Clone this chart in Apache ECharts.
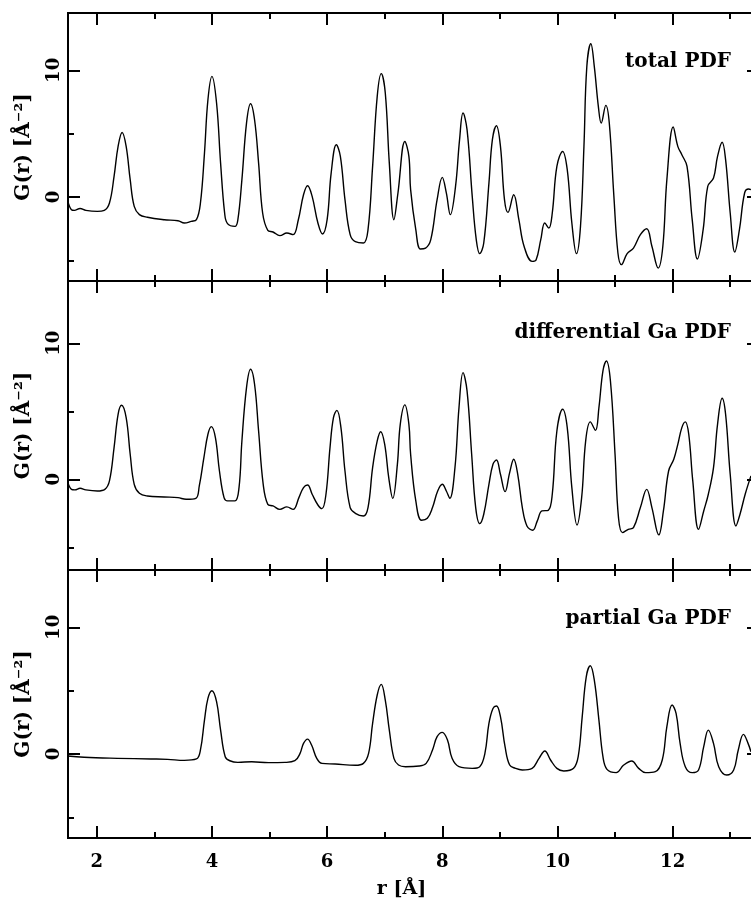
<!DOCTYPE html>
<html>
<head>
<meta charset="utf-8">
<script src="https://cdn.jsdelivr.net/npm/echarts@6/dist/echarts.min.js"></script>
<style>
html,body{margin:0;padding:0;background:#fff;overflow:hidden;width:751px;height:901px;}
#c{width:760px;height:901px;}
</style>
</head>
<body>
<div id="c"></div>
<script>
// ---- data ----
const panelTitles = ['total PDF', 'differential Ga PDF', 'partial Ga PDF'];
const xMajorTicks = [2, 4, 6, 8, 10, 12];
const xMinorTicks = [3, 5, 7, 9, 11, 13];
const yMajorTicks = [0, 10];
const yMinorTicks = [-5, 5];

const totalR = [1.49,1.56,1.61,1.71,1.81,2.01,2.13,2.22,2.30,2.37,2.44,2.51,2.58,2.65,2.74,2.88,3.17,3.41,3.52,3.64,3.73,3.80,3.87,3.93,4.00,4.08,4.15,4.22,4.27,4.40,4.45,4.52,4.60,4.67,4.74,4.81,4.88,4.97,5.06,5.18,5.30,5.41,5.50,5.59,5.66,5.74,5.84,5.92,6.00,6.07,6.16,6.23,6.31,6.40,6.49,6.63,6.71,6.79,6.87,6.94,7.01,7.08,7.16,7.23,7.35,7.42,7.45,7.54,7.62,7.71,7.80,7.91,8.00,8.07,8.14,8.23,8.30,8.36,8.43,8.52,8.59,8.65,8.72,8.81,8.87,8.94,9.01,9.08,9.14,9.24,9.33,9.42,9.56,9.63,9.71,9.78,9.85,9.91,9.99,10.09,10.17,10.25,10.33,10.40,10.46,10.51,10.58,10.64,10.71,10.76,10.84,10.90,10.98,11.05,11.11,11.21,11.32,11.44,11.55,11.64,11.75,11.83,11.90,12.01,12.09,12.16,12.25,12.34,12.43,12.53,12.61,12.71,12.78,12.86,12.92,13.00,13.08,13.16,13.25,13.32,13.36];
const totalG = [-0.2,-1.0,-1.05,-0.9,-1.05,-1.13,-1.05,-0.47,1.63,4.0,5.1,4.0,1.37,-0.74,-1.39,-1.6,-1.79,-1.87,-2.05,-1.92,-1.79,-0.47,3.47,7.68,9.53,7.42,2.68,-1.26,-2.1,-2.32,-1.79,1.37,5.84,7.37,6.1,2.68,-1.26,-2.63,-2.76,-3.05,-2.84,-2.97,-1.79,0.18,0.89,0.05,-2.05,-2.92,-1.79,1.89,4.13,3.21,-0.21,-2.97,-3.53,-3.63,-2.58,2.42,7.95,9.74,8.21,2.68,-1.79,0.32,4.39,3.21,0.58,-2.58,-4.1,-4.03,-3.37,-0.21,1.55,0.32,-1.39,0.84,4.53,6.63,5.32,0.05,-3.37,-4.47,-3.63,1.1,4.53,5.63,4.0,-0.21,-1.21,0.18,-1.79,-3.89,-5.08,-4.95,-3.37,-2.05,-2.45,-1.26,2.42,3.6,2.16,-2.05,-4.47,-2.32,4.0,10.3,12.1,10.3,7.16,5.84,7.24,5.84,0.05,-4.42,-5.34,-4.47,-4.03,-2.97,-2.5,-3.89,-5.61,-3.89,1.37,5.53,4.0,3.34,2.42,-1.79,-4.89,-2.58,0.84,1.5,3.21,4.32,2.95,-1.26,-4.34,-2.58,0.32,0.63,0.58];

const diffR = [1.49,1.56,1.62,1.71,1.81,2.01,2.14,2.22,2.30,2.37,2.43,2.51,2.58,2.65,2.74,2.88,3.17,3.41,3.55,3.72,3.78,3.86,3.93,3.99,4.06,4.13,4.21,4.27,4.40,4.47,4.52,4.60,4.67,4.74,4.81,4.89,4.97,5.06,5.18,5.30,5.41,5.51,5.59,5.66,5.74,5.84,5.91,5.98,6.05,6.11,6.17,6.24,6.31,6.40,6.49,6.63,6.71,6.79,6.87,6.93,7.00,7.07,7.14,7.22,7.27,7.35,7.42,7.45,7.54,7.64,7.74,7.83,7.92,8.00,8.07,8.13,8.22,8.29,8.36,8.43,8.51,8.58,8.65,8.72,8.81,8.88,8.94,9.01,9.09,9.17,9.24,9.31,9.39,9.47,9.57,9.65,9.73,9.84,9.91,9.99,10.09,10.17,10.25,10.34,10.42,10.49,10.57,10.66,10.72,10.79,10.85,10.92,11.00,11.06,11.13,11.23,11.32,11.44,11.55,11.64,11.76,11.84,11.93,12.02,12.09,12.16,12.22,12.28,12.35,12.45,12.54,12.62,12.71,12.78,12.86,12.92,13.00,13.10,13.17,13.26,13.36];
const diffG = [-0.12,-0.74,-0.78,-0.66,-0.78,-0.86,-0.74,-0.12,2.33,4.78,5.44,4.53,1.84,-0.37,-1.03,-1.23,-1.3,-1.35,-1.47,-1.4,-0.49,1.59,3.31,3.87,3.06,0.61,-1.35,-1.59,-1.59,-0.61,2.82,6.74,8.09,6.99,3.55,-0.37,-1.84,-1.96,-2.21,-2.03,-2.21,-1.35,-0.61,-0.42,-1.1,-1.89,-2.16,-1.1,2.33,4.53,5.07,3.8,0.61,-2.08,-2.5,-2.7,-2.08,0.86,2.82,3.5,2.57,0.12,-1.4,1.1,4.04,5.47,4.04,1.84,-1.59,-3.01,-2.87,-2.08,-0.86,-0.37,-0.86,-1.4,0.86,5.27,7.84,6.5,1.84,-2.08,-3.26,-2.57,-0.37,1.1,1.42,0.37,-0.91,0.49,1.47,0.37,-2.08,-3.43,-3.75,-3.06,-2.33,-2.28,-1.1,3.55,5.15,3.8,-0.61,-3.36,-1.35,2.82,4.22,3.6,5.27,7.97,8.7,7.23,1.84,-2.82,-3.92,-3.68,-3.55,-2.08,-0.74,-2.08,-4.09,-2.33,0.61,1.47,2.57,3.8,4.22,3.31,-0.12,-3.68,-2.33,-1.1,0.86,4.04,5.96,4.78,0.37,-3.43,-2.57,-1.1,0.25];

const partR = [1.49,1.78,2.36,2.94,3.23,3.52,3.73,3.80,3.87,3.93,4.00,4.08,4.15,4.23,4.31,4.45,4.69,4.98,5.27,5.44,5.53,5.59,5.66,5.73,5.82,5.91,6.14,6.49,6.63,6.72,6.79,6.87,6.94,7.01,7.08,7.16,7.24,7.36,7.60,7.72,7.83,7.91,8.00,8.09,8.17,8.29,8.52,8.65,8.74,8.81,8.88,8.94,9.01,9.09,9.17,9.27,9.39,9.56,9.68,9.78,9.88,9.99,10.11,10.28,10.36,10.43,10.50,10.57,10.64,10.72,10.79,10.86,11.02,11.15,11.29,11.41,11.53,11.70,11.82,11.90,11.99,12.06,12.13,12.22,12.34,12.45,12.54,12.62,12.71,12.80,12.94,13.06,13.14,13.23,13.31,13.36];
const partG = [-0.16,-0.26,-0.34,-0.39,-0.42,-0.5,-0.39,0.32,2.68,4.39,5.0,4.13,1.89,-0.21,-0.53,-0.66,-0.61,-0.68,-0.66,-0.53,0.05,0.84,1.18,0.71,-0.34,-0.74,-0.79,-0.89,-0.74,0.05,2.42,4.66,5.5,4.26,1.89,-0.34,-0.87,-1.0,-0.95,-0.74,0.32,1.37,1.71,1.1,-0.34,-1.0,-1.13,-1.0,0.05,2.42,3.6,3.79,2.95,0.58,-0.87,-1.13,-1.26,-1.13,-0.34,0.24,-0.47,-1.13,-1.34,-1.13,-0.21,2.95,6.1,6.97,5.84,2.68,-0.21,-1.21,-1.47,-0.87,-0.55,-1.13,-1.47,-1.39,-0.47,2.16,3.87,3.21,0.84,-1.0,-1.47,-1.26,0.58,1.89,0.84,-1.0,-1.66,-1.26,0.32,1.55,0.84,0.18];

const xRange = [1.5, 13.5];
const yRanges = [[-6.63, 14.53], [-6.67, 14.58], [-6.63, 14.53]];
const yTitle = 'G(r) [Å⁻²]';
const xTitle = 'r [Å]';

// ---- layout ----
const FONT = 'DejaVu Serif';
const grids = [
  {left: 68, top: 13, right: 1, height: 268},
  {left: 68, top: 281, right: 1, height: 289},
  {left: 68, top: 570, right: 1, height: 268}
];
const series = [[totalR, totalG], [diffR, diffG], [partR, partG]];

const xAxes = [], yAxes = [], ser = [];
const lineSt = {color: '#000', width: 2};
function xAx(g, pos, ticks, len, labels) {
  return {
    type: 'value', gridIndex: g, position: pos, min: xRange[0], max: xRange[1],
    axisLine: {show: true, onZero: false, lineStyle: lineSt},
    axisTick: {show: true, inside: true, length: len, customValues: ticks, lineStyle: {color: '#000', width: 2}},
    axisLabel: labels ? {show: true, customValues: ticks, margin: 15, color: '#000',
      fontFamily: FONT, fontWeight: 'bold', fontSize: 18} : {show: false},
    splitLine: {show: false}, minorTick: {show: false}
  };
}
function yAx(g, pos, ticks, len, labels, name) {
  const o = {
    type: 'value', gridIndex: g, position: pos, min: yRanges[g][0], max: yRanges[g][1],
    axisLine: {show: true, onZero: false, lineStyle: lineSt},
    axisTick: {show: true, inside: true, length: len, customValues: ticks, lineStyle: {color: '#000', width: 2}},
    axisLabel: labels ? {show: true, customValues: ticks, rotate: 90, margin: 5, color: '#000',
      fontFamily: FONT, fontWeight: 'bold', fontSize: 18} : {show: false},
    splitLine: {show: false}
  };
  if (name) {
    o.name = name;
    o.nameLocation = 'middle';
    o.nameGap = 34;
    o.nameRotate = 90;
    o.nameTextStyle = {color: '#000', fontFamily: FONT, fontWeight: 'bold', fontSize: 20};
  }
  return o;
}

for (let g = 0; g < 3; g++) {
  const xi = xAxes.length;
  xAxes.push(xAx(g, 'bottom', xMajorTicks, 12, g === 2));
  xAxes.push(xAx(g, 'bottom', xMinorTicks, 6, false));
  xAxes.push(xAx(g, 'top', xMajorTicks, 12, false));
  xAxes.push(xAx(g, 'top', xMinorTicks, 6, false));
  const yi = yAxes.length;
  yAxes.push(yAx(g, 'left', yMajorTicks, 12, true, yTitle));
  yAxes.push(yAx(g, 'left', yMinorTicks, 6, false));
  yAxes.push(yAx(g, 'right', yMajorTicks, 12, false));
  yAxes.push(yAx(g, 'right', yMinorTicks, 6, false));
  const [rs, gs] = series[g];
  ser.push({
    type: 'line', xAxisIndex: xi, yAxisIndex: yi, showSymbol: false, symbol: 'none',
    smooth: 0.4, clip: true, animation: false,
    lineStyle: {color: '#000', width: 1.4},
    data: rs.map((r, i) => [r, gs[i]])
  });
}
xAxes[8].name = xTitle;
xAxes[8].nameLocation = 'middle';
xAxes[8].nameGap = 42;
xAxes[8].nameTextStyle = {color: '#000', fontFamily: FONT, fontWeight: 'bold', fontSize: 19, padding: [0, 24, 0, 0]};

const titleY = [65, 336, 622];
const graphic = panelTitles.map((t, i) => ({
  type: 'text', right: 29, top: titleY[i] - 13,
  style: {text: t, fill: '#000', font: 'bold 20px "DejaVu Serif"'}
}));

const chart = echarts.init(document.getElementById('c'), null, {renderer: 'canvas'});
chart.setOption({
  animation: false,
  backgroundColor: '#fff',
  grid: grids,
  xAxis: xAxes,
  yAxis: yAxes,
  series: ser,
  graphic: graphic
});
</script>
</body>
</html>
